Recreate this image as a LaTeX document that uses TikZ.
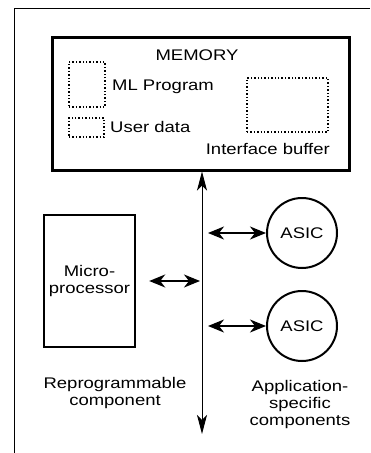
\documentclass[tikz,border=0pt]{standalone}
\usepackage{fontspec}
\setmainfont{Liberation Sans}[FakeStretch=1.2]
\usetikzlibrary{arrows.meta,positioning,calc}

\begin{document}
\begin{tikzpicture}[
    x=1pt, y=-1pt,
    every node/.style={font=\fontsize{15.4}{17}\selectfont},
    membox/.style={draw, line width=3pt, minimum width=297pt, minimum height=133pt, inner sep=0pt},
    area/.style={draw, dotted, line width=1.4pt, inner sep=0pt},
    unit/.style={draw, line width=2.4pt, minimum width=91pt, minimum height=132pt, align=center},
    asic/.style={draw, circle, line width=2pt, minimum size=70pt, inner sep=0pt},
    lab/.style={align=center, inner sep=0pt},
    link/.style={{Stealth[length=16pt,width=13pt,inset=5pt]}-{Stealth[length=16pt,width=13pt,inset=5pt]}, line width=1.8pt},
    bus/.style={{Stealth[length=19pt,width=10pt,inset=5pt]}-{Stealth[length=19pt,width=10pt,inset=5pt]}, line width=1pt}
]
\useasboundingbox (0,0) rectangle (370,453);
\draw[line width=1pt] (370,8) -- (14,8) -- (14,453);

% memory and its areas
\node[membox] (mem) at (200.5,103.5) {};
\node[lab] (memlab) at (197,55) {MEMORY};
\node[area, minimum width=36pt, minimum height=45pt] (mlprog) at (87,84.5) {};
\node[lab, anchor=west] (mllab) at (112,87) {ML Program};
\node[area, minimum width=35pt, minimum height=19pt] (udata) at (86.5,127.5) {};
\node[lab, anchor=west] (udlab) at (110,127) {User data};
\node[area, minimum width=81pt, minimum height=54pt] (buffer) at (287.5,105) {};
\node[lab, anchor=east] (buflab) at (330,149) {Interface buffer};

% components
\node[unit] (micro) at (89.5,281) {Micro-\\processor};
\node[asic] (asica) at (302,233) {ASIC};
\node[asic] (asicb) at (302,326) {ASIC};
\node[lab] (reprog) at (115,393) {Reprogrammable\\component};
\node[lab] (appspec) at (300,405) {Application-\\specific\\components};

% bus
\coordinate (busbot) at (202,434);
\coordinate (tapmicro) at (200,281);
\coordinate (tapa) at (208,233);
\coordinate (tapb) at (208,326);
\draw[bus] (busbot |- mem.south) -- (busbot);
\draw[link] ([xshift=13pt]micro.east) -- (tapmicro);
\draw[link] (tapa) -- (asica.west);
\draw[link] (tapb) -- (asicb.west);
\end{tikzpicture}
\end{document}
